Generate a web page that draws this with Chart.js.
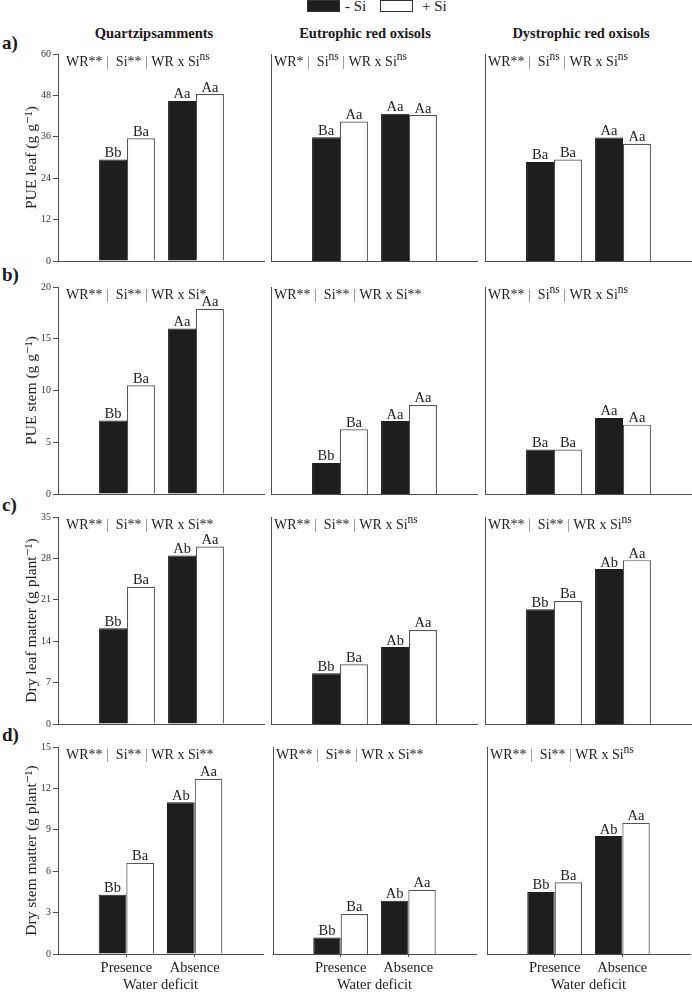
<!DOCTYPE html>
<html>
<head>
<meta charset="utf-8">
<script src="https://cdn.jsdelivr.net/npm/chart.js@4.4.1/dist/chart.umd.min.js"></script>
<style>
  body { margin: 0; background: #fff; }
  #page { position: relative; width: 692px; height: 992px; font-family: "Liberation Serif", "DejaVu Serif", serif; color: #1a1a1a; }
  .soil { position: absolute; top: 25px; width: 220px; text-align: center; font-weight: bold; font-size: 14.5px; line-height: 17px; }
  .row-tag { position: absolute; left: 2px; font-weight: bold; font-size: 19px; line-height: 22px; }
  .key { position: absolute; top: 0; width: 33px; height: 12px; box-sizing: border-box; border: 1px solid #333; }
  .key-text { position: absolute; top: -2px; font-size: 15px; line-height: 17px; }
  canvas { position: absolute; }
</style>
</head>
<body>
<div id="page">
  <!-- legend -->
  <div class="key" style="left:307px;background:#1e1e1e"></div>
  <div class="key-text" style="left:345px">- Si</div>
  <div class="key" style="left:380px;background:#fff"></div>
  <div class="key-text" style="left:422px">+ Si</div>

  <!-- soil titles -->
  <div class="soil" style="left:44px">Quartzipsamments</div>
  <div class="soil" style="left:255px">Eutrophic red oxisols</div>
  <div class="soil" style="left:471px">Dystrophic red oxisols</div>

  <!-- row tags -->
  <div class="row-tag" style="top:32px">a)</div>
  <div class="row-tag" style="top:264px">b)</div>
  <div class="row-tag" style="top:494px">c)</div>
  <div class="row-tag" style="top:724px">d)</div>
</div>
<script>
// Water deficit levels (x categories)
const deficitLevels = ["Presence", "Absence"];

// PUE leaf (g g-1), per soil: [presence, absence]
const pueLeafNoSi = [[29.4, 46.4], [35.9, 42.7], [28.7, 35.8]];
const pueLeafSi = [[35.6, 48.4], [40.4, 42.3], [29.4, 34.0]];
const pueLeafLettersNoSi = [["Bb", "Aa"], ["Ba", "Aa"], ["Ba", "Aa"]];
const pueLeafLettersSi = [["Ba", "Aa"], ["Aa", "Aa"], ["Ba", "Aa"]];
const pueLeafAnova = ["WR** |  Si** | WR x Si^ns", "WR* |  Si^ns | WR x Si^ns", "WR** |  Si^ns | WR x Si^ns"];
const pueLeafTicks = [0, 12, 24, 36, 48, 60];

// PUE stem (g g-1)
const pueStemNoSi = [[7.1, 16.0], [3.0, 7.05], [4.3, 7.35]];
const pueStemSi = [[10.5, 17.9], [6.25, 8.6], [4.3, 6.7]];
const pueStemLettersNoSi = [["Bb", "Aa"], ["Bb", "Aa"], ["Ba", "Aa"]];
const pueStemLettersSi = [["Ba", "Aa"], ["Ba", "Aa"], ["Ba", "Aa"]];
const pueStemAnova = ["WR** |  Si** | WR x Si*", "WR** |  Si** | WR x Si**", "WR** |  Si^ns | WR x Si^ns"];
const pueStemTicks = [0, 5, 10, 15, 20];

// Dry leaf matter (g plant-1)
const leafMatterNoSi = [[16.2, 28.5], [8.6, 13.0], [19.4, 26.2]];
const leafMatterSi = [[23.2, 30.0], [10.1, 15.9], [20.8, 27.7]];
const leafMatterLettersNoSi = [["Bb", "Ab"], ["Bb", "Ab"], ["Bb", "Ab"]];
const leafMatterLettersSi = [["Ba", "Aa"], ["Ba", "Aa"], ["Ba", "Aa"]];
const leafMatterAnova = ["WR** |  Si** | WR x Si**", "WR** |  Si** | WR x Si^ns", "WR** |  Si** | WR x Si^ns"];
const leafMatterTicks = [0, 7, 14, 21, 28, 35];

// Dry stem matter (g plant-1)
const stemMatterNoSi = [[4.3, 11.0], [1.2, 3.85], [4.5, 8.55]];
const stemMatterSi = [[6.6, 12.7], [2.9, 4.65], [5.2, 9.5]];
const stemMatterLettersNoSi = [["Bb", "Ab"], ["Bb", "Ab"], ["Bb", "Ab"]];
const stemMatterLettersSi = [["Ba", "Aa"], ["Ba", "Aa"], ["Ba", "Aa"]];
const stemMatterAnova = ["WR** |  Si** | WR x Si**", "WR** |  Si** | WR x Si**", "WR** |  Si** | WR x Si^ns"];
const stemMatterTicks = [0, 3, 6, 9, 12, 15];

// One entry per row of panels
const rows = [
  { title: "PUE leaf (g g⁻¹)", ticks: pueLeafTicks, noSi: pueLeafNoSi, si: pueLeafSi, lettersNoSi: pueLeafLettersNoSi, lettersSi: pueLeafLettersSi, anova: pueLeafAnova },
  { title: "PUE stem (g g⁻¹)", ticks: pueStemTicks, noSi: pueStemNoSi, si: pueStemSi, lettersNoSi: pueStemLettersNoSi, lettersSi: pueStemLettersSi, anova: pueStemAnova },
  { title: "Dry leaf matter (g plant⁻¹)", ticks: leafMatterTicks, noSi: leafMatterNoSi, si: leafMatterSi, lettersNoSi: leafMatterLettersNoSi, lettersSi: leafMatterLettersSi, anova: leafMatterAnova },
  { title: "Dry stem matter (g plant⁻¹)", ticks: stemMatterTicks, noSi: stemMatterNoSi, si: stemMatterSi, lettersNoSi: stemMatterLettersNoSi, lettersSi: stemMatterLettersSi, anova: stemMatterAnova },
];

// Panel placement on the page
const plotTops = [54, 287, 517, 747];
const plotLefts = [58, 271, 485];
const plotSize = 207;
const yAxisWidth = 58;

const serif = '"Liberation Serif", "DejaVu Serif", serif';
const axisColor = "#4d4d4d";

// Draws the mean comparison letters above each bar
const barLetters = {
  id: "barLetters",
  afterDatasetsDraw(chart, args, opts) {
    const ctx = chart.ctx;
    ctx.save();
    ctx.font = "14.5px " + serif;
    ctx.fillStyle = "#222";
    ctx.textAlign = "center";
    ctx.textBaseline = "alphabetic";
    chart.data.datasets.forEach((ds, i) => {
      chart.getDatasetMeta(i).data.forEach((bar, j) => {
        const letter = opts.letters[i][j];
        if (letter) ctx.fillText(letter, bar.x, bar.y - 2.5);
      });
    });
    ctx.restore();
  },
};

// Draws the ANOVA note in the top left corner, "^xx" is a superscript
const anovaNote = {
  id: "anovaNote",
  afterDraw(chart, args, opts) {
    const ctx = chart.ctx;
    const area = chart.chartArea;
    let x = area.left + opts.offsetX;
    const y = area.top + 12;
    ctx.save();
    ctx.textBaseline = "alphabetic";
    opts.text.split(/(\^\w+|\|)/).forEach((part) => {
      if (!part) return;
      const sup = part[0] === "^";
      const t = sup ? part.slice(1) : part;
      ctx.font = (sup ? "11.5px " : "14px ") + serif;
      // the separators are lighter in the original
      ctx.fillStyle = t === "|" ? "#777" : "#222";
      ctx.fillText(t, x, sup ? y - 6 : y);
      x += ctx.measureText(t).width;
    });
    ctx.restore();
  },
};

const page = document.getElementById("page");

function makePanel(rowIdx, colIdx) {
  const r = rows[rowIdx];
  const firstCol = colIdx === 0;
  const lastRow = rowIdx === rows.length - 1;
  const padTop = 12;
  const padBottom = lastRow ? 0 : 8;
  const xAxisHeight = lastRow ? 38 : 0;
  const leftW = firstCol ? yAxisWidth : 0;

  const canvas = document.createElement("canvas");
  canvas.width = leftW + plotSize;
  canvas.height = padTop + plotSize + xAxisHeight + padBottom;
  canvas.style.left = plotLefts[colIdx] - leftW + "px";
  canvas.style.top = plotTops[rowIdx] - padTop + "px";
  page.appendChild(canvas);

  return new Chart(canvas, {
    type: "bar",
    data: {
      labels: ["", ...deficitLevels, ""],
      datasets: [
        {
          label: "- Si",
          data: [null, ...r.noSi[colIdx], null],
          backgroundColor: "#1e1e1e",
          borderColor: "#1e1e1e",
          borderWidth: 1,
          categoryPercentage: 0.81,
          barPercentage: 1,
        },
        {
          label: "+ Si",
          data: [null, ...r.si[colIdx], null],
          backgroundColor: "#ffffff",
          borderColor: "#555",
          borderWidth: 1.2,
          categoryPercentage: 0.81,
          barPercentage: 1,
        },
      ],
    },
    options: {
      responsive: false,
      animation: false,
      layout: { padding: { top: padTop, bottom: padBottom, left: 0, right: 0 } },
      plugins: {
        legend: { display: false },
        tooltip: { enabled: false },
        barLetters: {
          letters: [
            [null, ...r.lettersNoSi[colIdx], null],
            [null, ...r.lettersSi[colIdx], null],
          ],
        },
        anovaNote: { text: r.anova[colIdx], offsetX: firstCol ? 8 : 3 },
      },
      scales: {
        x: {
          offset: false,
          grid: {
            display: lastRow,
            offset: false,
            drawOnChartArea: false,
            tickLength: 3,
            tickColor: (ctx) => (ctx.index === 1 || ctx.index === 2 ? axisColor : "rgba(0,0,0,0)"),
          },
          border: { display: true, color: axisColor, width: 1 },
          ticks: {
            display: lastRow,
            autoSkip: false,
            maxRotation: 0,
            padding: 2,
            color: "#222",
            font: { family: serif, size: 14.5 },
          },
          title: {
            display: lastRow,
            text: "Water deficit",
            color: "#222",
            font: { family: serif, size: 14.5, lineHeight: 1 },
            padding: { top: 0, bottom: 0 },
          },
          afterFit: (scale) => {
            scale.height = xAxisHeight;
          },
        },
        y: {
          min: 0,
          max: r.ticks[r.ticks.length - 1],
          ticks: {
            display: firstCol,
            stepSize: r.ticks[1] - r.ticks[0],
            padding: 2,
            color: "#333",
            font: { family: serif, size: 10 },
          },
          grid: {
            display: firstCol,
            drawOnChartArea: false,
            tickLength: 5,
            color: axisColor,
          },
          border: { display: true, color: axisColor, width: 1 },
          title: {
            display: firstCol,
            text: r.title,
            color: "#222",
            font: { family: serif, size: 15.5, lineHeight: 1 },
            padding: { top: 24, bottom: 0 },
          },
          afterFit: (scale) => {
            scale.width = leftW;
          },
        },
      },
    },
    plugins: [barLetters, anovaNote],
  });
}

for (let row = 0; row < rows.length; row++) {
  for (let col = 0; col < 3; col++) {
    makePanel(row, col);
  }
}
</script>
</body>
</html>
